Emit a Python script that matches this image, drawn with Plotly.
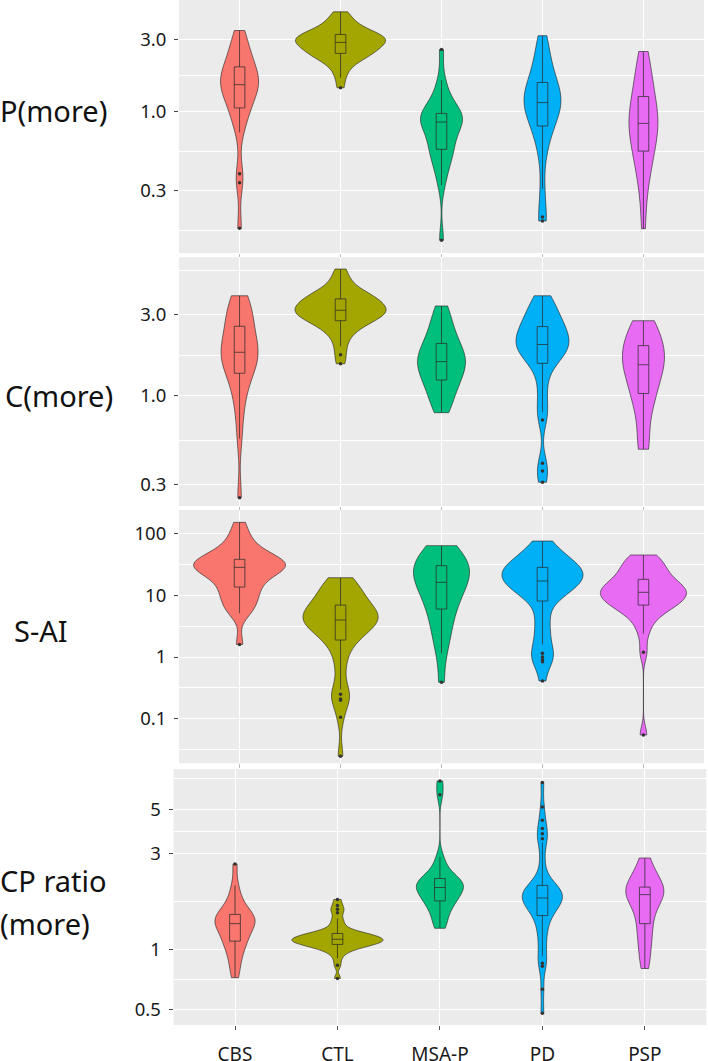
import numpy as np
import plotly.graph_objects as go

categories = ["CBS", "CTL", "MSA-P", "PD", "PSP"]
colors = ["#F8766D", "#A3A500", "#00BF7D", "#00B0F6", "#E76BF3"]

# ---- P(more) ----
p_CBS = [0.17, 0.34, 0.39, 0.73, 0.88, 0.97, 1.06, 1.15, 1.25, 1.32, 1.40, 1.46, 1.51, 1.56, 1.62, 1.68, 1.76, 1.86, 1.98, 2.10, 2.25, 2.45, 2.70, 3.00, 3.44]
p_CTL = [1.44, 1.68, 1.85, 2.00, 2.10, 2.18, 2.25, 2.30, 2.35, 2.39, 2.43, 2.48, 2.53, 2.58, 2.62, 2.66, 2.70, 2.74, 2.78, 2.83, 2.87, 2.91, 2.95, 2.98, 3.01, 3.05, 3.08, 3.12, 3.16, 3.20, 3.24, 3.29, 3.35, 3.42, 3.50, 3.60, 3.72, 3.88, 4.05, 4.30, 4.57]
p_MSA = [0.142, 0.328, 0.40, 0.45, 0.50, 0.54, 0.565, 0.60, 0.65, 0.70, 0.76, 0.81, 0.855, 0.87, 0.89, 0.91, 0.93, 0.95, 0.976, 1.03, 1.10, 1.20, 1.38, 1.62, 2.58]
p_PD = [0.19, 0.202, 0.31, 0.50, 0.62, 0.72, 0.805, 0.86, 0.92, 0.98, 1.04, 1.10, 1.15, 1.20, 1.25, 1.31, 1.38, 1.46, 1.56, 1.68, 1.85, 2.05, 2.30, 2.70, 3.18]
p_PSP = [0.169, 0.26, 0.34, 0.40, 0.45, 0.50, 0.55, 0.60, 0.65, 0.70, 0.75, 0.80, 0.838, 0.88, 0.93, 0.99, 1.06, 1.15, 1.26, 1.38, 1.50, 1.68, 1.90, 2.20, 2.50]

# ---- C(more) ----
c_CBS = [0.251, 0.56, 0.78, 0.95, 1.10, 1.25, 1.355, 1.45, 1.52, 1.60, 1.67, 1.74, 1.80, 1.88, 1.97, 2.07, 2.20, 2.38, 2.56, 2.75, 2.95, 3.15, 3.38, 3.62, 3.87]
c_CTL = [1.54, 1.74, 1.95, 2.15, 2.30, 2.42, 2.52, 2.60, 2.66, 2.71, 2.76, 2.82, 2.88, 2.93, 2.98, 3.02, 3.05, 3.08, 3.11, 3.15, 3.18, 3.22, 3.27, 3.33, 3.39, 3.45, 3.50, 3.55, 3.60, 3.66, 3.71, 3.78, 3.85, 3.92, 4.00, 4.10, 4.25, 4.45, 4.70, 5.10, 5.56]
c_MSA = [0.794, 0.86, 0.95, 1.03, 1.10, 1.17, 1.236, 1.30, 1.36, 1.42, 1.48, 1.53, 1.585, 1.64, 1.70, 1.76, 1.84, 1.93, 2.03, 2.14, 2.30, 2.50, 2.72, 3.00, 3.37]
c_PD = [0.31, 0.36, 0.40, 0.72, 0.80, 0.95, 1.15, 1.35, 1.55, 1.62, 1.69, 1.75, 1.80, 1.85, 1.90, 1.95, 2.00, 2.06, 2.12, 2.18, 2.25, 2.32, 2.40, 2.47, 2.55, 2.65, 2.76, 2.90, 3.05, 3.22, 3.40, 3.62, 3.87]
c_PSP = [0.484, 0.50, 0.62, 0.78, 0.88, 0.96, 1.03, 1.12, 1.20, 1.30, 1.38, 1.45, 1.52, 1.58, 1.64, 1.70, 1.78, 1.87, 1.97, 2.08, 2.20, 2.35, 2.50, 2.64, 2.76]

# ---- S-AI ----
s_CBS = [1.6, 5.1, 5.6, 6.5, 8.0, 9.3, 10.3, 11.5, 13.5, 15.5, 17.5, 19.5, 21.5, 23.5, 25.0, 26.5, 28.1, 29.0, 30.0, 31.0, 32.0, 33.0, 34.5, 36.0, 37.9, 40, 44, 49, 56, 66, 80, 105, 150]
s_CTL = [0.025, 0.106, 0.20, 0.21, 0.25, 0.30, 0.55, 0.85, 1.2, 1.55, 1.88, 2.1, 2.35, 2.6, 2.8, 3.0, 3.2, 3.4, 3.6, 3.8, 3.96, 4.15, 4.35, 4.55, 4.75, 5.0, 5.3, 5.6, 6.0, 6.4, 6.9, 7.5, 8.2, 9.0, 10.0, 11.2, 12.5, 14.0, 15.5, 17.2, 19.1]
s_MSA = [0.39, 1.15, 1.8, 2.6, 3.6, 4.7, 5.96, 7.5, 9.0, 10.8, 12.5, 14.3, 16.1, 18.0, 20.0, 22.5, 25.0, 27.5, 29.9, 33, 37, 42, 48, 55, 63]
s_PD = [0.41, 0.84, 0.90, 1.0, 1.15, 1.6, 2.0, 2.8, 3.8, 5.0, 8.03, 9.0, 10.0, 11.0, 12.0, 13.0, 14.0, 14.8, 15.5, 16.2, 16.9, 17.8, 18.8, 19.8, 20.8, 22.0, 23.2, 24.5, 25.7, 26.9, 28.1, 29.5, 31.0, 33, 35, 38, 42, 47, 54, 63, 74.8]
s_PSP = [0.055, 1.19, 2.4, 3.5, 4.5, 5.3, 5.9, 6.4, 6.9, 7.4, 7.9, 8.4, 8.9, 9.4, 9.9, 10.5, 11.1, 11.7, 12.3, 12.9, 13.6, 14.4, 15.3, 16.5, 18.0, 20, 22.5, 25, 28, 31.5, 35, 40, 44.5]

# ---- CP ratio (more) ----
cp_CBS = [0.72, 0.80, 0.88, 0.95, 1.01, 1.06, 1.096, 1.14, 1.19, 1.23, 1.27, 1.31, 1.34, 1.37, 1.40, 1.42, 1.44, 1.46, 1.49, 1.55, 1.62, 1.72, 1.87, 2.08, 2.66]
cp_CTL = [0.714, 0.83, 0.90, 0.95, 0.98, 1.0, 1.015, 1.025, 1.035, 1.045, 1.055, 1.06, 1.07, 1.08, 1.085, 1.09, 1.095, 1.10, 1.105, 1.11, 1.12, 1.125, 1.13, 1.14, 1.15, 1.16, 1.165, 1.17, 1.18, 1.19, 1.197, 1.21, 1.23, 1.26, 1.30, 1.36, 1.42, 1.52, 1.58, 1.65, 1.77]
cp_MSA = [1.27, 1.35, 1.45, 1.55, 1.62, 1.68, 1.74, 1.79, 1.84, 1.88, 1.93, 1.98, 2.03, 2.06, 2.09, 2.12, 2.16, 2.20, 2.25, 2.32, 2.42, 2.60, 2.88, 5.9, 6.9]
cp_PD = [0.478, 0.63, 0.82, 0.85, 0.92, 1.02, 1.12, 1.22, 1.30, 1.38, 1.47, 1.52, 1.56, 1.60, 1.64, 1.67, 1.70, 1.73, 1.76, 1.78, 1.80, 1.83, 1.86, 1.89, 1.92, 1.95, 1.98, 2.01, 2.04, 2.06, 2.08, 2.25, 2.50, 2.85, 3.40, 3.56, 3.77, 4.00, 4.40, 5.12, 6.78]
cp_PSP = [0.80, 0.88, 0.98, 1.08, 1.17, 1.25, 1.34, 1.45, 1.56, 1.66, 1.74, 1.81, 1.87, 1.90, 1.93, 1.96, 1.98, 2.01, 2.04, 2.10, 2.20, 2.32, 2.47, 2.65, 2.85]

# tick breaks / labels per panel
p_ticks, p_labels = [0.3, 1, 3], ["0.3", "1.0", "3.0"]
c_ticks, c_labels = [0.3, 1, 3], ["0.3", "1.0", "3.0"]
s_ticks, s_labels = [0.1, 1, 10, 100], ["0.1", "1", "10", "100"]
cp_ticks, cp_labels = [0.5, 1, 3, 5], ["0.5", "1", "3", "5"]

panels = [
    dict(groups=[p_CBS, p_CTL, p_MSA, p_PD, p_PSP], ticks=p_ticks, labels=p_labels,
         rng=[-0.933, 0.738], dom=[0.7615, 1.0], xdom=[0.2528, 0.9944], spacing=101.0,
         wpx=[38, 90, 42, 37, 29]),
    dict(groups=[c_CBS, c_CTL, c_MSA, c_PD, c_PSP], ticks=c_ticks, labels=c_labels,
         rng=[-0.649, 0.814], dom=[0.5231, 0.7575], xdom=[0.2528, 0.9944], spacing=101.0,
         wpx=[37, 91, 48, 53, 42]),
    dict(groups=[s_CBS, s_CTL, s_MSA, s_PD, s_PSP], ticks=s_ticks, labels=s_labels,
         rng=[-1.717, 2.375], dom=[0.2806, 0.5193], xdom=[0.2528, 0.9944], spacing=101.0,
         wpx=[92, 75, 56, 81, 86]),
    dict(groups=[cp_CBS, cp_CTL, cp_MSA, cp_PD, cp_PSP], ticks=cp_ticks, labels=cp_labels,
         rng=[-0.379, 0.899], dom=[0.0339, 0.2752], xdom=[0.2451, 0.9976], spacing=102.25,
         wpx=[40, 91, 47, 40, 38]),
]


def nrd0(v):
    v = np.asarray(v, dtype=float)
    sd = np.std(v, ddof=1)
    q75, q25 = np.percentile(v, [75, 25])
    lo = min(sd, (q75 - q25) / 1.34)
    return 0.9 * lo * len(v) ** -0.2


def minor_breaks(tl):
    # ggplot2 regular_minor_breaks in transformed space
    b = list(tl)
    bd = b[1] - b[0]
    b = [b[0] - bd] + b + [b[-1] + bd]
    return [(b[i] + b[i + 1]) / 2 for i in range(len(b) - 1)]


fig = go.Figure()
layout = {}
for pi, pan in enumerate(panels):
    k = "" if pi == 0 else str(pi + 1)
    xa, ya = "x" + k, "y" + k
    for gi, vals in enumerate(pan["groups"]):
        ly = np.log10(np.asarray(vals, dtype=float))
        cat = categories[gi]
        fig.add_trace(go.Violin(
            x=[cat] * len(ly), y=ly, xaxis=xa, yaxis=ya,
            line=dict(color="rgba(30,30,30,0.85)", width=0.7),
            fillcolor=colors[gi], points=False, spanmode="hard",
            bandwidth=nrd0(ly), scalemode="width",
            width=pan["wpx"][gi] / pan["spacing"],
            box_visible=False, meanline_visible=False,
            hoverinfo="skip", showlegend=False))
        fig.add_trace(go.Box(
            x=[cat] * len(ly), y=ly, xaxis=xa, yaxis=ya,
            quartilemethod="inclusive", boxpoints="outliers",
            width=0.105, whiskerwidth=0,
            line=dict(color="rgba(40,40,40,0.9)", width=0.8),
            fillcolor="rgba(0,0,0,0)",
            marker=dict(color="#333333", size=3.5, line=dict(width=0)),
            jitter=0, pointpos=0, hoverinfo="skip", showlegend=False))
    tl = [float(np.log10(t)) for t in pan["ticks"]]
    layout["xaxis" + k] = dict(
        domain=pan["xdom"], anchor=ya, type="category",
        categoryorder="array", categoryarray=categories,
        range=[-0.6, 4.6], showgrid=True, gridcolor="white", gridwidth=1.1,
        zeroline=False, showline=False, automargin=False,
        ticks="outside", ticklen=4, tickcolor="#555555" if pi == 3 else "#bbbbbb",
        tickwidth=1,
        showticklabels=(pi == 3),
        tickfont=dict(family="Noto Sans", size=19, color="#1a1a1a"),
        ticklabelstandoff=8)
    layout["yaxis" + k] = dict(
        domain=pan["dom"], anchor=xa, range=pan["rng"], automargin=False,
        tickmode="array", tickvals=tl, ticktext=pan["labels"],
        showgrid=True, gridcolor="white", gridwidth=1.1,
        zeroline=False, showline=False,
        ticks="outside", ticklen=4, tickcolor="#444444", tickwidth=1,
        tickfont=dict(family="Noto Sans", size=18.5, color="#1a1a1a"),
        ticklabelstandoff=4,
        minor=dict(tickmode="array", tickvals=minor_breaks(tl), showgrid=True,
                   gridcolor="white", gridwidth=0.55, ticks=""))

H = 1061.0
titles = [("P(more)", -2, 111), ("C(more)", 3, 396), ("S-AI", 12, 630),
          ("CP ratio", -2, 880), ("(more)", -2, 923)]
ann = []
for txt, xp, yp in titles:
    ann.append(dict(text=txt, x=xp / 708.0, y=1 - yp / H, xref="paper", yref="paper",
                    xanchor="left", yanchor="middle", showarrow=False,
                    font=dict(family="Noto Sans", size=29, color="#111111")))

fig.update_layout(
    width=708, height=1061, autosize=False,
    margin=dict(l=0, r=0, t=0, b=0),
    paper_bgcolor="white", plot_bgcolor="#EBEBEB",
    violinmode="overlay", boxmode="overlay",
    showlegend=False, annotations=ann, **layout)

fig.write_html("out.html", config={"displayModeBar": False},
               post_script="document.body.style.margin='0px';document.body.style.overflow='hidden';")
